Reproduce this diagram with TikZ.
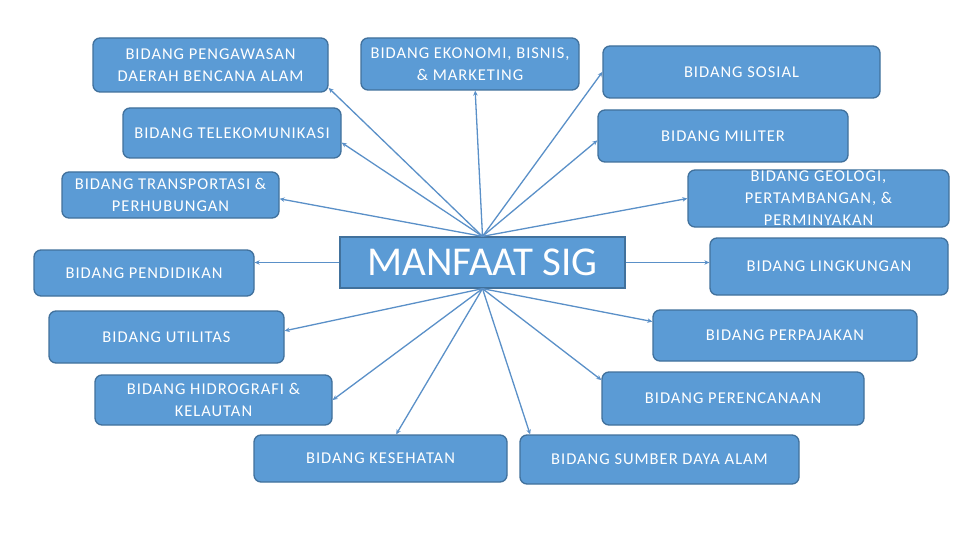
\documentclass[tikz,border=0pt]{standalone}
\usepackage{fontspec}
\setmainfont{Carlito}
\newfontfamily\renggang{Carlito}[LetterSpace=6]
\usepackage{tikz}
\usetikzlibrary{arrows.meta}

\definecolor{boxblue}{HTML}{5B9BD5}
\definecolor{boxedge}{HTML}{41719C}
\definecolor{linkblue}{HTML}{5A90C8}

\begin{document}
\begin{tikzpicture}[x=1pt, y=-1pt,
    bidang/.style={rectangle, rounded corners=7pt, fill=boxblue, draw=boxedge,
      line width=1.3pt, text=white, align=center, inner sep=0pt,
      font=\renggang\fontsize{16.5}{22}\selectfont},
    pusat/.style={bidang, rounded corners=0pt, font=\fontsize{41}{44}\selectfont},
    link/.style={-{Stealth[length=5pt,width=4.5pt]}, line width=1.3pt, color=linkblue}]
      \fill [white] (0,0) rectangle (960,540);
      \useasboundingbox (0,0) rectangle (960,540);
      \node [bidang, minimum width=235pt, minimum height=54pt] (pengawasan) at (210.5,65) {BIDANG PENGAWASAN\\DAERAH BENCANA ALAM};
      \node [bidang, minimum width=218pt, minimum height=52pt] (ekonomi) at (470,64) {BIDANG EKONOMI, BISNIS,\\\& MARKETING};
      \node [bidang, minimum width=277pt, minimum height=52pt] (sosial) at (741.5,72) {BIDANG SOSIAL};
      \node [bidang, minimum width=218pt, minimum height=50pt] (telekom) at (232,133) {BIDANG TELEKOMUNIKASI};
      \node [bidang, minimum width=250pt, minimum height=52pt] (militer) at (723,136) {BIDANG MILITER};
      \node [bidang, minimum width=217pt, minimum height=46pt] (transport) at (170.5,195) {BIDANG TRANSPORTASI \&\\PERHUBUNGAN};
      \node [bidang, minimum width=261pt, minimum height=57pt] (geologi) at (818.5,198.5) {BIDANG GEOLOGI,\\PERTAMBANGAN, \&\\PERMINYAKAN};
      \node [pusat, minimum width=285pt, minimum height=51pt] (manfaat) at (482.5,262.5) {MANFAAT SIG};
      \node [bidang, minimum width=220pt, minimum height=46pt] (pendidikan) at (144,273) {BIDANG PENDIDIKAN};
      \node [bidang, minimum width=238pt, minimum height=57pt] (lingkungan) at (829,266.5) {BIDANG LINGKUNGAN};
      \node [bidang, minimum width=235pt, minimum height=52pt] (utilitas) at (166.5,337) {BIDANG UTILITAS};
      \node [bidang, minimum width=264pt, minimum height=51pt] (perpajakan) at (785,335.5) {BIDANG PERPAJAKAN};
      \node [bidang, minimum width=237pt, minimum height=50pt] (hidrografi) at (213.5,400) {BIDANG HIDROGRAFI \&\\KELAUTAN};
      \node [bidang, minimum width=262pt, minimum height=53pt] (perencanaan) at (733,398.5) {BIDANG PERENCANAAN};
      \node [bidang, minimum width=253pt, minimum height=47pt] (kesehatan) at (380.5,458.5) {BIDANG KESEHATAN};
      \node [bidang, minimum width=279pt, minimum height=49pt] (sumber) at (659.5,459.5) {BIDANG SUMBER DAYA ALAM};
      \draw [link] (manfaat.north) -- (pengawasan.-11);
      \draw [link] (manfaat.north) -- (ekonomi.-79);
      \draw [link] (manfaat.north) -- (sosial.west);
      \draw [link] (manfaat.north) -- (telekom.-5);
      \draw [link] (manfaat.north) -- (militer.182);
      \draw [link] (manfaat.north) -- (transport.-2);
      \draw [link] (manfaat.north) -- (geologi.west);
      \draw [link] (manfaat.west) -- (manfaat.west -| pendidikan.east);
      \draw [link] (manfaat.east) -- (manfaat.east -| lingkungan.west);
      \draw [link] (manfaat.south) -- (utilitas.3);
      \draw [link] (manfaat.south) -- (perpajakan.174);
      \draw [link] (manfaat.south) -- (hidrografi.east);
      \draw [link] (manfaat.south) -- (perencanaan.172);
      \draw [link] (manfaat.south) -- (kesehatan.57);
      \draw [link] (manfaat.south) -- (sumber.169);
    \end{tikzpicture}
\end{document}
